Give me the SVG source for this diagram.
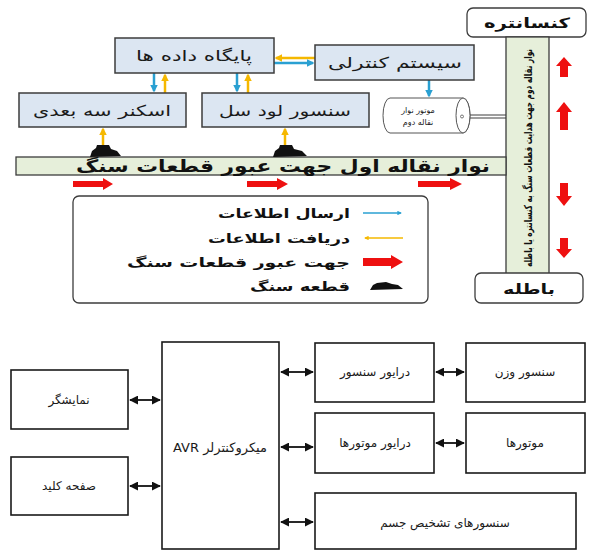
<svg xmlns="http://www.w3.org/2000/svg" width="589" height="551" viewBox="0 0 589 551">
<defs>
<style>
.bx{fill:#dce6f2;stroke:#3c3c3c;stroke-width:1.5}
.rb{fill:#ffffff;stroke:#3c3c3c;stroke-width:1.3}
.cv{fill:#e6efda;stroke:#3c3c3c;stroke-width:1.3}
.wb{fill:#ffffff;stroke:#1a1a1a;stroke-width:1.6}
.t{font-family:"DejaVu Sans",sans-serif;fill:#1a1a1a;text-anchor:middle}
.tb{font-family:"DejaVu Sans",sans-serif;fill:#111;font-weight:bold;text-anchor:middle}
.bl{stroke:#2aa0d2;stroke-width:2.5;fill:none}
.or{stroke:#f5b800;stroke-width:2.5;fill:none}
.bk{stroke:#111;stroke-width:1.8;fill:none}
.red{fill:#ee1010}
.rock{fill:#111}
</style>
<marker id="mb" viewBox="0 0 10 10" refX="8" refY="5" markerWidth="3" markerHeight="3" orient="auto"><path d="M0,0 L10,5 L0,10 Z" fill="#2aa0d2"/></marker>
<marker id="mo" viewBox="0 0 10 10" refX="8" refY="5" markerWidth="3" markerHeight="3" orient="auto"><path d="M0,0 L10,5 L0,10 Z" fill="#f5b800"/></marker>
<marker id="mk" viewBox="0 0 10 10" refX="9" refY="5" markerWidth="5" markerHeight="5" orient="auto-start-reverse"><path d="M0,0 L10,5 L0,10 Z" fill="#111"/></marker>
</defs>

<!-- connectors -->
<g id="connectors">
  <line class="or" x1="315" y1="58" x2="276" y2="58" marker-end="url(#mo)"/>
  <line class="bl" x1="274" y1="63" x2="313" y2="63" marker-end="url(#mb)"/>
  <line class="bl" x1="154" y1="73" x2="154" y2="91" marker-end="url(#mb)"/>
  <line class="or" x1="165" y1="93" x2="165" y2="75" marker-end="url(#mo)"/>
  <line class="bl" x1="237" y1="73" x2="237" y2="91" marker-end="url(#mb)"/>
  <line class="or" x1="248" y1="93" x2="248" y2="75" marker-end="url(#mo)"/>
  <line class="bl" x1="429" y1="80" x2="429" y2="96" marker-end="url(#mb)"/>
  <line class="or" x1="103" y1="146" x2="103" y2="129" marker-end="url(#mo)"/>
  <line class="or" x1="285" y1="146" x2="285" y2="129" marker-end="url(#mo)"/>
  <line x1="462" y1="115" x2="506" y2="115" stroke="#3c3c3c" stroke-width="1"/>
  <line x1="462" y1="118" x2="506" y2="118" stroke="#3c3c3c" stroke-width="1"/>
  <line class="bk" x1="130" y1="400" x2="160" y2="400" marker-start="url(#mk)" marker-end="url(#mk)"/>
  <line class="bk" x1="130" y1="486" x2="160" y2="486" marker-start="url(#mk)" marker-end="url(#mk)"/>
  <line class="bk" x1="281" y1="372" x2="313" y2="372" marker-start="url(#mk)" marker-end="url(#mk)"/>
  <line class="bk" x1="281" y1="447" x2="313" y2="447" marker-start="url(#mk)" marker-end="url(#mk)"/>
  <line class="bk" x1="281" y1="522" x2="313" y2="522" marker-start="url(#mk)" marker-end="url(#mk)"/>
  <line class="bk" x1="436" y1="372" x2="464" y2="372" marker-start="url(#mk)" marker-end="url(#mk)"/>
  <line class="bk" x1="436" y1="443" x2="464" y2="443" marker-start="url(#mk)" marker-end="url(#mk)"/>
</g>

<g id="database"><rect class="bx" x="115" y="38" width="159" height="35"/><text class="t" x="194" y="61" font-size="15" textLength="116" lengthAdjust="spacingAndGlyphs">پایگاه داده ها</text></g>
<g id="scanner"><rect class="bx" x="19" y="93" width="167" height="34"/><text class="t" x="102" y="116" font-size="15" textLength="138" lengthAdjust="spacingAndGlyphs">اسکنر سه بعدی</text></g>
<g id="loadcell"><rect class="bx" x="202" y="93" width="167" height="34"/><text class="t" x="285" y="116" font-size="15" textLength="132" lengthAdjust="spacingAndGlyphs">سنسور لود سل</text></g>
<g id="control"><rect class="bx" x="315" y="45" width="159" height="35"/><text class="t" x="395" y="68" font-size="15" textLength="134" lengthAdjust="spacingAndGlyphs">سیستم کنترلی</text></g>

<g id="motor">
  <path d="M390,98 L463,98 A7,17.5 0 0 1 463,133 L390,133 A7,17.5 0 0 1 390,98 Z" fill="#fff" stroke="#555" stroke-width="1"/>
  <ellipse cx="463" cy="115.5" rx="7" ry="17.5" fill="#fff" stroke="#555" stroke-width="1"/>
  <circle cx="462" cy="116.5" r="1.5" fill="#fff" stroke="#555" stroke-width="0.8"/>
  <text class="t" x="418" y="113" font-size="8">موتور نوار</text>
  <text class="t" x="418" y="125" font-size="8">نقاله دوم</text>
</g>

<g id="concentrate"><rect class="rb" x="467" y="8" width="119" height="29" rx="6"/><text class="tb" x="527" y="28" font-size="14" textLength="86" lengthAdjust="spacingAndGlyphs">کنسانتره</text></g>
<g id="conveyor2"><rect class="cv" x="506" y="37" width="43" height="237"/><text class="tb" transform="translate(532,158) rotate(-90)" font-size="11" textLength="218" lengthAdjust="spacingAndGlyphs">نوار نقاله دوم جهت هدایت قطعات سنگ به کنسانتره یا باطله</text></g>
<g id="waste"><rect class="rb" x="475" y="273" width="108" height="30" rx="6"/><text class="tb" x="529" y="294" font-size="14" textLength="52" lengthAdjust="spacingAndGlyphs">باطله</text></g>

<g id="conveyor1"><rect class="cv" x="16" y="157" width="490" height="18"/><text class="tb" x="283" y="172" font-size="17" textLength="414" lengthAdjust="spacingAndGlyphs">نوار نقاله اول جهت عبور قطعات سنگ</text></g>

<g id="rocks">
  <path class="rock" d="M90,157 L92,151 L96,148 L97,145 L109,145 L111,149 L117,151 L121,156 Z"/>
  <path class="rock" d="M273,157 L275,151 L279,148 L280,145 L292,145 L294,149 L302,151 L307,156 Z"/>
</g>

<g id="redarrows">
  <polygon class="red" points="73,181 103,181 103,178 113,184 103,190 103,187 73,187"/>
  <polygon class="red" points="247,181 277,181 277,178 288,184 277,190 277,187 247,187"/>
  <polygon class="red" points="418,181 450,181 450,178 462,184 450,190 450,187 418,187"/>
  <polygon class="red" points="560,77 568,77 568,66 572,66 564,57 556,66 560,66"/>
  <polygon class="red" points="560,130 568,130 568,112 572,112 564,102 556,112 560,112"/>
  <polygon class="red" points="560,183 568,183 568,196 572,196 564,206 556,196 560,196"/>
  <polygon class="red" points="560,238 568,238 568,249 572,249 564,258 556,249 560,249"/>
</g>

<g id="legend">
  <rect x="73" y="196" width="355" height="107" rx="6" fill="#fff" stroke="#3c3c3c" stroke-width="1.3"/>
  <text class="tb" x="350" y="218" font-size="13" style="text-anchor:end" textLength="132" lengthAdjust="spacingAndGlyphs">ارسال اطلاعات</text>
  <line x1="363" y1="213" x2="401" y2="213" stroke="#2aa0d2" stroke-width="1.5" marker-end="url(#mb)"/>
  <text class="tb" x="350" y="243" font-size="13" style="text-anchor:end" textLength="142" lengthAdjust="spacingAndGlyphs">دریافت اطلاعات</text>
  <line x1="403" y1="238" x2="365" y2="238" stroke="#f5b800" stroke-width="1.5" marker-end="url(#mo)"/>
  <text class="tb" x="350" y="267" font-size="13" style="text-anchor:end" textLength="223" lengthAdjust="spacingAndGlyphs">جهت عبور قطعات سنگ</text>
  <polygon class="red" points="363,258 391,258 391,255 403,262 391,269 391,266 363,266"/>
  <text class="tb" x="350" y="291" font-size="13" style="text-anchor:end" textLength="100" lengthAdjust="spacingAndGlyphs">قطعه سنگ</text>
  <path class="rock" d="M370,290 L373,285 L377,283 L386,282 L392,284 L398,285 L403,289 Z"/>
</g>

<g id="avr"><rect class="wb" x="162" y="342" width="117" height="207"/><text class="t" x="220" y="452" font-size="13" direction="rtl">میکروکنترلر AVR</text></g>
<g id="display"><rect class="wb" x="11" y="370" width="117" height="59"/><text class="t" x="69" y="404" font-size="12">نمایشگر</text></g>
<g id="keypad"><rect class="wb" x="11" y="457" width="117" height="58"/><text class="t" x="69" y="490" font-size="12">صفحه کلید</text></g>
<g id="sensordriver"><rect class="wb" x="315" y="343" width="119" height="59"/><text class="t" x="375" y="376" font-size="12">درایور سنسور</text></g>
<g id="weightsensor"><rect class="wb" x="466" y="343" width="119" height="59"/><text class="t" x="525" y="376" font-size="12">سنسور وزن</text></g>
<g id="motordriver"><rect class="wb" x="315" y="413" width="119" height="60"/><text class="t" x="375" y="447" font-size="12">درایور موتورها</text></g>
<g id="motors"><rect class="wb" x="466" y="413" width="119" height="60"/><text class="t" x="525" y="447" font-size="12">موتورها</text></g>
<g id="objsensors"><rect class="wb" x="315" y="493" width="261" height="56"/><text class="t" x="445" y="527" font-size="12">سنسورهای تشخیص جسم</text></g>
</svg>
